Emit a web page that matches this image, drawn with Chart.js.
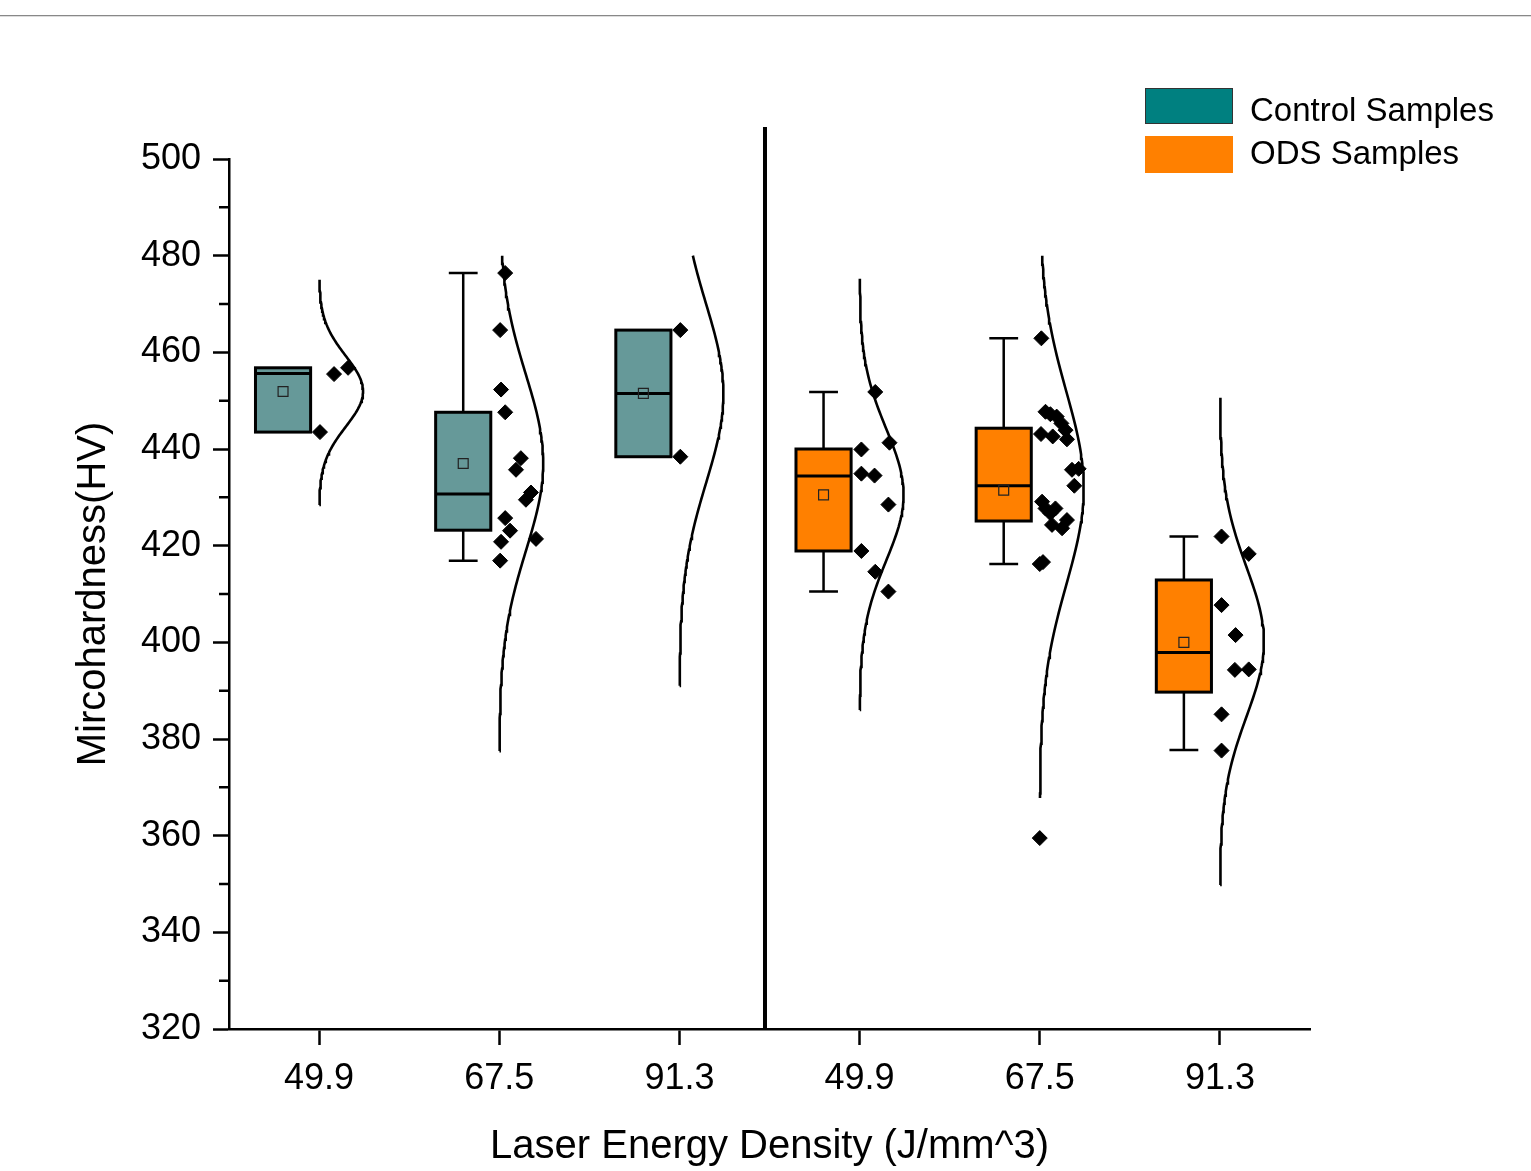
<!DOCTYPE html>
<html lang="en">
<head>
    <meta charset="UTF-8">
    <title>Mircohardness vs Laser Energy Density</title>
    <script src="https://cdn.jsdelivr.net/npm/chart.js"></script>
    <style>
        * {
            margin: 0;
            padding: 0;
            box-sizing: border-box;
            font-family: 'Liberation Sans', Arial, sans-serif;
        }

        body {
            background: #fff;
            width: 1531px;
            height: 1171px;
            overflow: hidden;
            position: relative;
        }

        .topline {
            position: absolute;
            left: 0;
            top: 15px;
            width: 100%;
            height: 2px;
            background: #888;
            border-bottom: 1px solid #ddd;
        }

        .chart-box {
            position: absolute;
            left: 0;
            top: 0;
            width: 1531px;
            height: 1171px;
        }

        .legend-item {
            position: absolute;
            left: 1145px;
            display: flex;
            align-items: center;
            font-size: 33px;
            color: #000;
        }

        .legend-item .swatch {
            width: 88px;
            margin-right: 17px;
        }
    </style>
</head>
<body>
    <div class="topline"></div>
    <div class="chart-box">
        <canvas id="hardnessChart"></canvas>
    </div>
    <div class="legend-item" style="top:87px;">
        <span class="swatch" style="height:36px;background:#008080;border:1px solid #333;"></span>
        <span style="position:relative;top:4px;">Control Samples</span>
    </div>
    <div class="legend-item" style="top:135px;">
        <span class="swatch" style="height:37px;background:#ff8000;"></span>
        <span style="position:relative;top:-1px;">ODS Samples</span>
    </div>

    <script>
        // categories (first three = control, last three = ODS)
        const xLabels = ['49.9', '67.5', '91.3', '49.9', '67.5', '91.3'];

        // measured points, HV
        const control499 = [443.5, 455.5, 456.8];
        const control675 = [476.4, 464.6, 452.3, 447.6, 438.1, 435.7, 431.0, 429.5, 425.7, 423.1, 420.8, 421.4, 416.9];
        const control913 = [464.6, 438.4];
        const ods499 = [451.8, 439.9, 441.3, 434.9, 434.5, 428.5, 418.9, 414.6, 410.5];
        const ods675 = [462.9, 447.7, 447.2, 446.7, 445.3, 443.9, 443.1, 442.6, 442.0, 435.7, 435.9, 432.4,
                        429.1, 427.7, 427.7, 426.7, 424.3, 423.6, 425.3, 416.6, 416.2, 359.5];
        const ods913 = [421.9, 418.3, 407.7, 401.5, 394.3, 394.4, 385.1, 377.6];

        // box statistics per category
        const whiskerLow  = [443.5, 416.9, 438.4, 410.5, 416.2, 377.7];
        const q1          = [443.5, 423.2, 438.4, 418.9, 425.1, 389.7];
        const median      = [455.6, 430.7, 451.5, 434.4, 432.4, 397.9];
        const q3          = [456.8, 447.6, 464.6, 440.0, 444.3, 412.9];
        const whiskerHigh = [456.8, 476.4, 464.6, 451.8, 462.9, 421.9];
        const means       = [451.9, 437.0, 451.5, 430.5, 431.5, 400.0];

        // extent of the normal curves
        const curveLow  = [428.4, 377.5, 391.0, 386.0, 367.8, 349.8];
        const curveHigh = [475.0, 480.0, 480.0, 475.2, 480.0, 450.6];

        // horizontal jitter of the points (x units)
        const jitter = [
            [0.005, 0.083, 0.161],
            [0.033, 0.005, 0.01, 0.033, 0.12, 0.093, 0.176, 0.148, 0.033, 0.06, 0.01, 0.204, 0.005],
            [0.005, 0.005],
            [0.087, 0.01, 0.166, 0.01, 0.083, 0.16, 0.01, 0.087, 0.16],
            [0.009, 0.032, 0.059, 0.094, 0.12, 0.143, 0.007, 0.072, 0.151, 0.179, 0.216, 0.192,
             0.013, 0.032, 0.087, 0.059, 0.068, 0.124, 0.151, 0.018, 0.0, 0.0],
            [0.009, 0.16, 0.009, 0.087, 0.083, 0.16, 0.009, 0.009]
        ];

        const groups = [control499, control675, control913, ods499, ods675, ods913];
        const boxFill = ['#669999', '#669999', '#669999', '#ff8000', '#ff8000', '#ff8000'];
        const boxOffset = -0.2, boxHalf = 0.153, capHalf = 0.08, peakWidth = 0.244;
        const dividerX = 3.475;

        // normal curve from each group's mean and SD
        function curvePoints(vals, i) {
            const m = vals.reduce((a, b) => a + b, 0) / vals.length;
            const sd = Math.sqrt(vals.reduce((a, b) => a + (b - m) * (b - m), 0) / (vals.length - 1));
            const pts = [];
            const steps = 120;
            for (let k = 0; k <= steps; k++) {
                const v = curveLow[i] + (curveHigh[i] - curveLow[i]) * k / steps;
                const z = (v - m) / sd;
                pts.push({ x: i + 1 + peakWidth * Math.exp(-0.5 * z * z), y: v });
            }
            return pts;
        }

        const datasets = [];

        // mean markers
        datasets.push({
            label: 'mean',
            data: means.map((v, i) => ({ x: i + 1 + boxOffset, y: v })),
            pointStyle: 'rect',
            pointRadius: 7,
            pointBackgroundColor: 'rgba(0,0,0,0)',
            pointBorderColor: '#222',
            pointBorderWidth: 1.2,
            showLine: false
        });

        groups.forEach((vals, i) => {
            datasets.push({
                label: 'points' + i,
                data: vals.map((v, k) => ({ x: i + 1 + jitter[i][k], y: v })),
                pointStyle: 'rectRot',
                pointRadius: 7.5,
                pointBackgroundColor: '#000',
                pointBorderColor: '#000',
                pointBorderWidth: 1,
                showLine: false
            });
            datasets.push({
                label: 'curve' + i,
                data: curvePoints(vals, i),
                showLine: true,
                borderColor: '#000',
                borderWidth: 2.6,
                pointRadius: 0,
                fill: false
            });
        });

        // divider between control and ODS
        datasets.push({
            label: 'divider',
            data: [{ x: dividerX, y: 320 }, { x: dividerX, y: 506.6 }],
            showLine: true,
            borderColor: '#000',
            borderWidth: 4,
            pointRadius: 0,
            clip: false
        });

        const boxPlugin = {
            id: 'boxes',
            beforeDatasetsDraw(chart) {
                const { ctx, scales: { x, y } } = chart;
                ctx.save();
                for (let i = 0; i < groups.length; i++) {
                    const c = i + 1 + boxOffset;
                    const mid = x.getPixelForValue(c);
                    const l = x.getPixelForValue(c - boxHalf);
                    const r = x.getPixelForValue(c + boxHalf);
                    const cl = x.getPixelForValue(c - capHalf);
                    const cr = x.getPixelForValue(c + capHalf);
                    ctx.strokeStyle = '#000';
                    ctx.lineWidth = 2.5;
                    ctx.lineCap = 'butt';
                    if (whiskerHigh[i] > q3[i]) {
                        ctx.beginPath();
                        ctx.moveTo(mid, y.getPixelForValue(q3[i]));
                        ctx.lineTo(mid, y.getPixelForValue(whiskerHigh[i]));
                        ctx.moveTo(cl, y.getPixelForValue(whiskerHigh[i]));
                        ctx.lineTo(cr, y.getPixelForValue(whiskerHigh[i]));
                        ctx.stroke();
                    }
                    if (whiskerLow[i] < q1[i]) {
                        ctx.beginPath();
                        ctx.moveTo(mid, y.getPixelForValue(q1[i]));
                        ctx.lineTo(mid, y.getPixelForValue(whiskerLow[i]));
                        ctx.moveTo(cl, y.getPixelForValue(whiskerLow[i]));
                        ctx.lineTo(cr, y.getPixelForValue(whiskerLow[i]));
                        ctx.stroke();
                    }
                    const top = y.getPixelForValue(q3[i]);
                    const bot = y.getPixelForValue(q1[i]);
                    ctx.fillStyle = boxFill[i];
                    ctx.fillRect(l, top, r - l, bot - top);
                    ctx.lineWidth = 3;
                    ctx.strokeRect(l, top, r - l, bot - top);
                    ctx.beginPath();
                    ctx.moveTo(l, y.getPixelForValue(median[i]));
                    ctx.lineTo(r, y.getPixelForValue(median[i]));
                    ctx.stroke();
                }
                ctx.restore();
            },
            afterDraw(chart) {
                // minor ticks on the y axis
                const { ctx, scales: { y }, chartArea } = chart;
                ctx.save();
                ctx.strokeStyle = '#000';
                ctx.lineWidth = 2.5;
                ctx.beginPath();
                for (let v = 330; v < 500; v += 20) {
                    const py = y.getPixelForValue(v);
                    ctx.moveTo(chartArea.left - 10, py);
                    ctx.lineTo(chartArea.left, py);
                }
                ctx.stroke();
                ctx.restore();
            }
        };

        const ctx = document.getElementById('hardnessChart').getContext('2d');
        new Chart(ctx, {
            type: 'scatter',
            data: { datasets: datasets },
            plugins: [boxPlugin],
            options: {
                responsive: true,
                maintainAspectRatio: false,
                animation: false,
                layout: { padding: { top: 159, right: 221, left: 60, bottom: 0 } },
                plugins: {
                    legend: { display: false },
                    tooltip: { enabled: false }
                },
                scales: {
                    x: {
                        type: 'linear',
                        min: 0.5,
                        max: 6.5,
                        afterBuildTicks: (scale) => {
                            scale.ticks = xLabels.map((_, i) => ({ value: i + 1 }));
                        },
                        afterFit: (scale) => { scale.height = 142; },
                        ticks: {
                            callback: (value) => xLabels[value - 1],
                            font: { size: 36 },
                            color: '#000',
                            padding: 12,
                            maxRotation: 0
                        },
                        grid: {
                            drawOnChartArea: false,
                            drawTicks: true,
                            tickLength: 16,
                            tickColor: '#000',
                            tickWidth: 2.5
                        },
                        border: { color: '#000', width: 2.5 },
                        title: {
                            display: true,
                            text: 'Laser Energy Density (J/mm^3)',
                            font: { size: 40 },
                            color: '#000',
                            padding: { top: 0, bottom: 0 }
                        }
                    },
                    y: {
                        min: 320,
                        max: 500,
                        afterFit: (scale) => { scale.width = 169; },
                        ticks: {
                            stepSize: 20,
                            font: { size: 36 },
                            color: '#000',
                            padding: 12
                        },
                        grid: {
                            drawOnChartArea: false,
                            drawTicks: true,
                            tickLength: 16,
                            tickColor: '#000',
                            tickWidth: 2.5
                        },
                        border: { color: '#000', width: 2.5 },
                        title: {
                            display: true,
                            text: 'Mircohardness(HV)',
                            font: { size: 40 },
                            color: '#000',
                            padding: { top: 10, bottom: 0 }
                        }
                    }
                }
            }
        });
    </script>
</body>
</html>
